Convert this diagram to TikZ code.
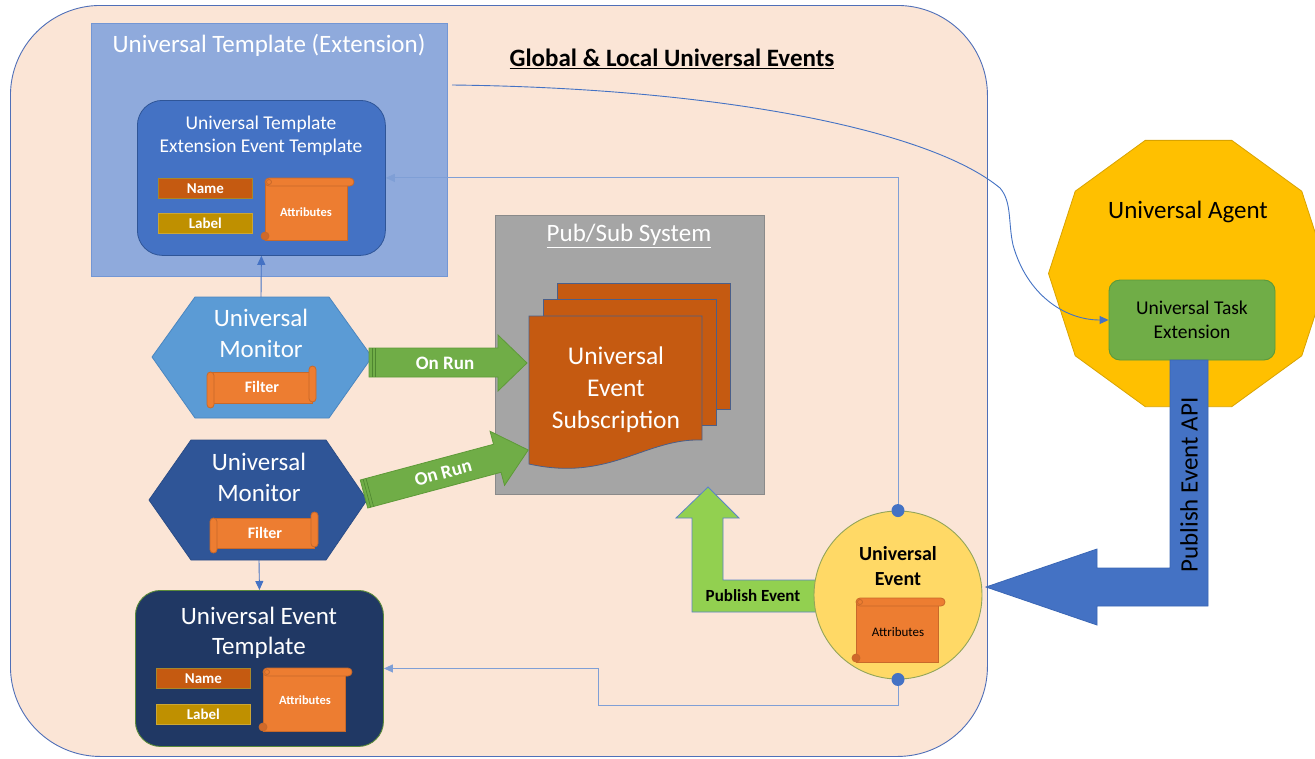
\documentclass[tikz,border=0pt]{standalone}
\usepackage{fontspec}
\setmainfont{Carlito}
\usetikzlibrary{arrows.meta,calc}
\definecolor{peach}{HTML}{FBE5D6}
\definecolor{outerline}{HTML}{4F6FB8}
\definecolor{extfill}{HTML}{8FAADC}
\definecolor{extline}{HTML}{7396D4}
\definecolor{innerfill}{HTML}{4472C4}
\definecolor{innerline}{HTML}{2F5597}
\definecolor{namefill}{HTML}{C55A11}
\definecolor{labelfill}{HTML}{BF9000}
\definecolor{boxline}{HTML}{A8872A}
\definecolor{scrollfill}{HTML}{ED7D31}
\definecolor{scrollline}{HTML}{C8692A}
\definecolor{scrolldark}{HTML}{D0692A}
\definecolor{btmfill}{HTML}{203864}
\definecolor{btmline}{HTML}{5A8A3A}
\definecolor{monAfill}{HTML}{5B9BD5}
\definecolor{monAline}{HTML}{4A86C0}
\definecolor{monBfill}{HTML}{2F5597}
\definecolor{monBline}{HTML}{2A4C86}
\definecolor{psfill}{HTML}{A5A5A5}
\definecolor{psline}{HTML}{8A8A8A}
\definecolor{docfill}{HTML}{C55A11}
\definecolor{docline}{HTML}{4A5F8A}
\definecolor{onrunfill}{HTML}{70AD47}
\definecolor{onrunline}{HTML}{5E9A38}
\definecolor{onrundark}{HTML}{4E8530}
\definecolor{pubfill}{HTML}{92D050}
\definecolor{publine}{HTML}{5A84C8}
\definecolor{evfill}{HTML}{FFD966}
\definecolor{evline}{HTML}{93A55A}
\definecolor{agentfill}{HTML}{FFC000}
\definecolor{agentline}{HTML}{D9A300}
\definecolor{taskfill}{HTML}{70AD47}
\definecolor{taskline}{HTML}{5A9A3A}
\definecolor{apifill}{HTML}{4472C4}
\definecolor{apiline}{HTML}{3A66B5}
\definecolor{connblue}{HTML}{4472C4}
\definecolor{connlight}{HTML}{7F9FD6}
\newcommand\fsz[2]{\fontsize{#1}{#2}\selectfont}
\newcommand\vscroll[4]{%
  \draw[scroll] ({#1+4},{#2+4}) rectangle ({#3-7},{#4-1});
  \draw[scroll, rounded corners=4pt] ({#1+4},{#2}) rectangle ({#3},{#2+8});
  \draw[scroll, fill=scrolldark] ({#1+4},{#4-5}) circle (4pt);
  \draw[scroll] ({#1+8},{#2+4}) circle (2.5pt);
}
\newcommand\hscroll[4]{%
  \draw[scroll] ({#1+4},{#2+6}) rectangle ({#3-4},{#4-5});
  \draw[scroll, rounded corners=3.5pt] ({#1},{#2+6}) rectangle ({#1+7},{#4});
  \draw[scroll, rounded corners=3.5pt] ({#3-7},{#2}) rectangle ({#3},{#4-6});
}
\begin{document}
\begin{tikzpicture}[x=1pt,y=-1pt,
  conn/.style={draw=connblue, line width=0.9pt},
  connl/.style={draw=connlight, line width=1pt},
  tip/.style={-{Triangle[length=9pt,width=8pt]}},
  txt/.style={inner sep=0pt, align=center},
  scroll/.style={fill=scrollfill, draw=scrollline, line width=0.8pt},
  smallbox/.style={minimum width=94pt, minimum height=20pt, anchor=north west, inner sep=0pt, draw=boxline, line width=0.8pt, text=white, font=\fsz{15}{18}\bfseries},
  onrun/.style={fill=onrunfill, draw=onrunline, line width=0.8pt},
  ]
\useasboundingbox (0,0) rectangle (1315,758);
\fill[white] (0,0) rectangle (1315,758);

% outer container
\node[draw=outerline, line width=0.9pt, fill=peach, rounded corners=90pt, minimum width=977pt, minimum height=751pt, anchor=north west, inner sep=0pt] (outer) at (10,5) {};
\node[txt, font=\fsz{25}{30}\bfseries] (title) at (672,59) {\underline{Global \& Local Universal Events}};

% Universal Template (Extension)
\node[draw=extline, line width=0.9pt, fill=extfill, minimum width=356pt, minimum height=253pt, anchor=north west, inner sep=0pt] (ext) at (91,23) {};
\node[txt, text=white, font=\fsz{25}{30}] (exttitle) at (269,45) {Universal Template (Extension)};
\node[draw=innerline, line width=0.8pt, fill=innerfill, rounded corners=25pt, minimum width=248pt, minimum height=155pt, anchor=north west, inner sep=0pt] (inner) at (137,100) {};
\node[txt, text=white, font=\fsz{19.5}{23}] (innertitle) at (261,136) {Universal Template\\Extension Event Template};
\node[smallbox, fill=namefill] (name1) at (158,178) {Name};
\node[smallbox, fill=labelfill, draw=labelfill!80!white] (label1) at (158,213) {Label};
\vscroll{261}{178}{354}{241}
\node[txt, text=white, font=\fsz{12.5}{15}\bfseries] (attr1) at (306,212) {Attributes};

% Pub/Sub system
\node[draw=psline, line width=0.9pt, fill=psfill, minimum width=269pt, minimum height=279pt, anchor=north west, inner sep=0pt] (pubsub) at (495,215) {};
\node[txt, text=white, font=\fsz{25}{30}] (pstitle) at (629,236) {\underline{Pub/Sub System}};
\draw[fill=docfill, draw=docline, line width=0.8pt] (557,283) rectangle (730,409);
\draw[fill=docfill, draw=docline, line width=0.8pt] (543,299) rectangle (716,425);
\draw[fill=docfill, draw=docline, line width=0.8pt] (529,316) -- (702,316) -- (702,440) .. controls (645,438) and (610,482) .. (529,464) -- cycle;
\node[txt, text=white, font=\fsz{25.5}{32}] (sub) at (616,390) {Universal\\Event\\Subscription};

% Monitor 1
\filldraw[fill=monAfill, draw=monAline, line width=0.8pt] (152,357) -- (195,297) -- (329,297) -- (372,357) -- (329,418) -- (195,418) -- cycle;
\coordinate (mon1top) at (261,297);
\node[txt, text=white, font=\fsz{25}{31}] (mon1) at (261,333) {Universal\\Monitor};
\hscroll{207}{366}{316}{408}
\node[txt, text=white, font=\fsz{16}{19}\bfseries] (filter1) at (262,387) {Filter};

% Monitor 2
\filldraw[fill=monBfill, draw=monBline, line width=0.8pt] (149,500) -- (191,440) -- (326,440) -- (367,500) -- (326,560) -- (191,560) -- cycle;
\coordinate (mon2bot) at (259,560);
\node[txt, text=white, font=\fsz{25}{31}] (mon2) at (259,477) {Universal\\Monitor};
\hscroll{210}{512}{318}{553}
\node[txt, text=white, font=\fsz{16}{19}\bfseries] (filter2) at (265,533) {Filter};

% On Run arrows
\filldraw[onrun] (369,348) -- (498,348) -- (498,335) -- (527,363) -- (498,391) -- (498,377) -- (369,377) -- cycle;
\draw[onrundark, line width=0.6pt] (372,348) -- (372,377) (375,348) -- (375,377);
\node[txt, text=white, font=\fsz{19}{22}\bfseries] (onrun1) at (445,363) {On Run};
\begin{scope}[shift={(364,494)}, rotate=15]
  \filldraw[onrun] (0,-14.5) -- (138,-14.5) -- (138,-28) -- (170,0) -- (138,28) -- (138,14.5) -- (0,14.5) -- cycle;
  \draw[onrundark, line width=0.6pt] (3,-14.5) -- (3,14.5) (6,-14.5) -- (6,14.5);
  \node[txt, text=white, font=\fsz{19}{22}\bfseries, rotate=15] (onrun2) at (82,0) {On Run};
\end{scope}

% Bottom template
\node[draw=btmline, line width=0.9pt, fill=btmfill, rounded corners=25pt, minimum width=248pt, minimum height=156pt, anchor=north west, inner sep=0pt] (btmpl) at (135,590) {};
\node[txt, text=white, font=\fsz{25}{30}] (btitle) at (259,633) {Universal Event\\Template};
\node[smallbox, fill=namefill] (name2) at (156,668) {Name};
\node[smallbox, fill=labelfill, draw=labelfill!80!white] (label2) at (156,704) {Label};
\vscroll{259}{668}{352}{732}
\node[txt, text=white, font=\fsz{12.5}{15}\bfseries] (attr2) at (305,700) {Attributes};

% Publish Event arrow
\filldraw[fill=pubfill, draw=publine, line width=0.8pt] (830,580) -- (723,580) -- (723,518) -- (739,518) -- (708,487) -- (676,518) -- (692,518) -- (692,612) -- (830,612) -- cycle;
\node[txt, font=\fsz{17}{20}\bfseries] (pubev) at (753,596) {Publish Event};

% Universal Event circle
\node[circle, draw=evline, line width=0.9pt, fill=evfill, minimum size=168pt, inner sep=0pt] (ev) at (898,595) {};
\node[txt, font=\fsz{20}{25}\bfseries] (evtitle) at (898,566) {Universal\\Event};
\vscroll{852}{598}{945}{663}
\node[txt, font=\fsz{13}{15}] (attr3) at (898,632) {Attributes};

% Agent
\filldraw[fill=agentfill, draw=agentline, line width=0.8pt] plot[samples at={0,36,...,324}] ({1188.5+140*cos(\x)},{273.5+140*sin(\x)}) -- cycle;
\node[txt, font=\fsz{25}{30}] (agent) at (1188,212) {Universal Agent};
\node[draw=taskline, line width=0.9pt, fill=taskfill, rounded corners=11pt, minimum width=166pt, minimum height=80pt, inner sep=0pt] (task) at (1192,320) {};
\node[txt, font=\fsz{19.5}{24}] (tasktext) at (1192,320) {Universal Task\\Extension};

% Publish Event API arrow
\filldraw[fill=apifill, draw=apiline, line width=0.8pt] (1170,360) -- (1208,360) -- (1208,606) -- (1097,606) -- (1097,625) -- (986,587) -- (1097,549) -- (1097,568) -- (1170,568) -- cycle;
\node[txt, font=\fsz{25}{30}, rotate=90] (api) at (1189,485) {Publish Event API};

% connectors
\draw[conn, tip] (mon1top) -- (inner.south);
\draw[conn, tip] (mon2bot) -- (btmpl.north);
\draw[conn, tip] (452,85) .. controls (720,88) and (930,130) .. (1000,188) .. controls (1012,202) and (1008,222) .. (1013,245) .. controls (1027,295) and (1065,320) .. (task.west);
\coordinate (evtop) at (ev.north);
\coordinate (evbot) at (ev.south);
\coordinate (bend) at (598,705);
\draw[connl, tip] (evtop) |- (inner.east);
\draw[connl, tip] (evbot) |- (bend) |- (btmpl.east);
\fill[connblue] (evtop) circle (6.5pt);
\fill[connblue] (evbot) circle (6.5pt);
\end{tikzpicture}
\end{document}
